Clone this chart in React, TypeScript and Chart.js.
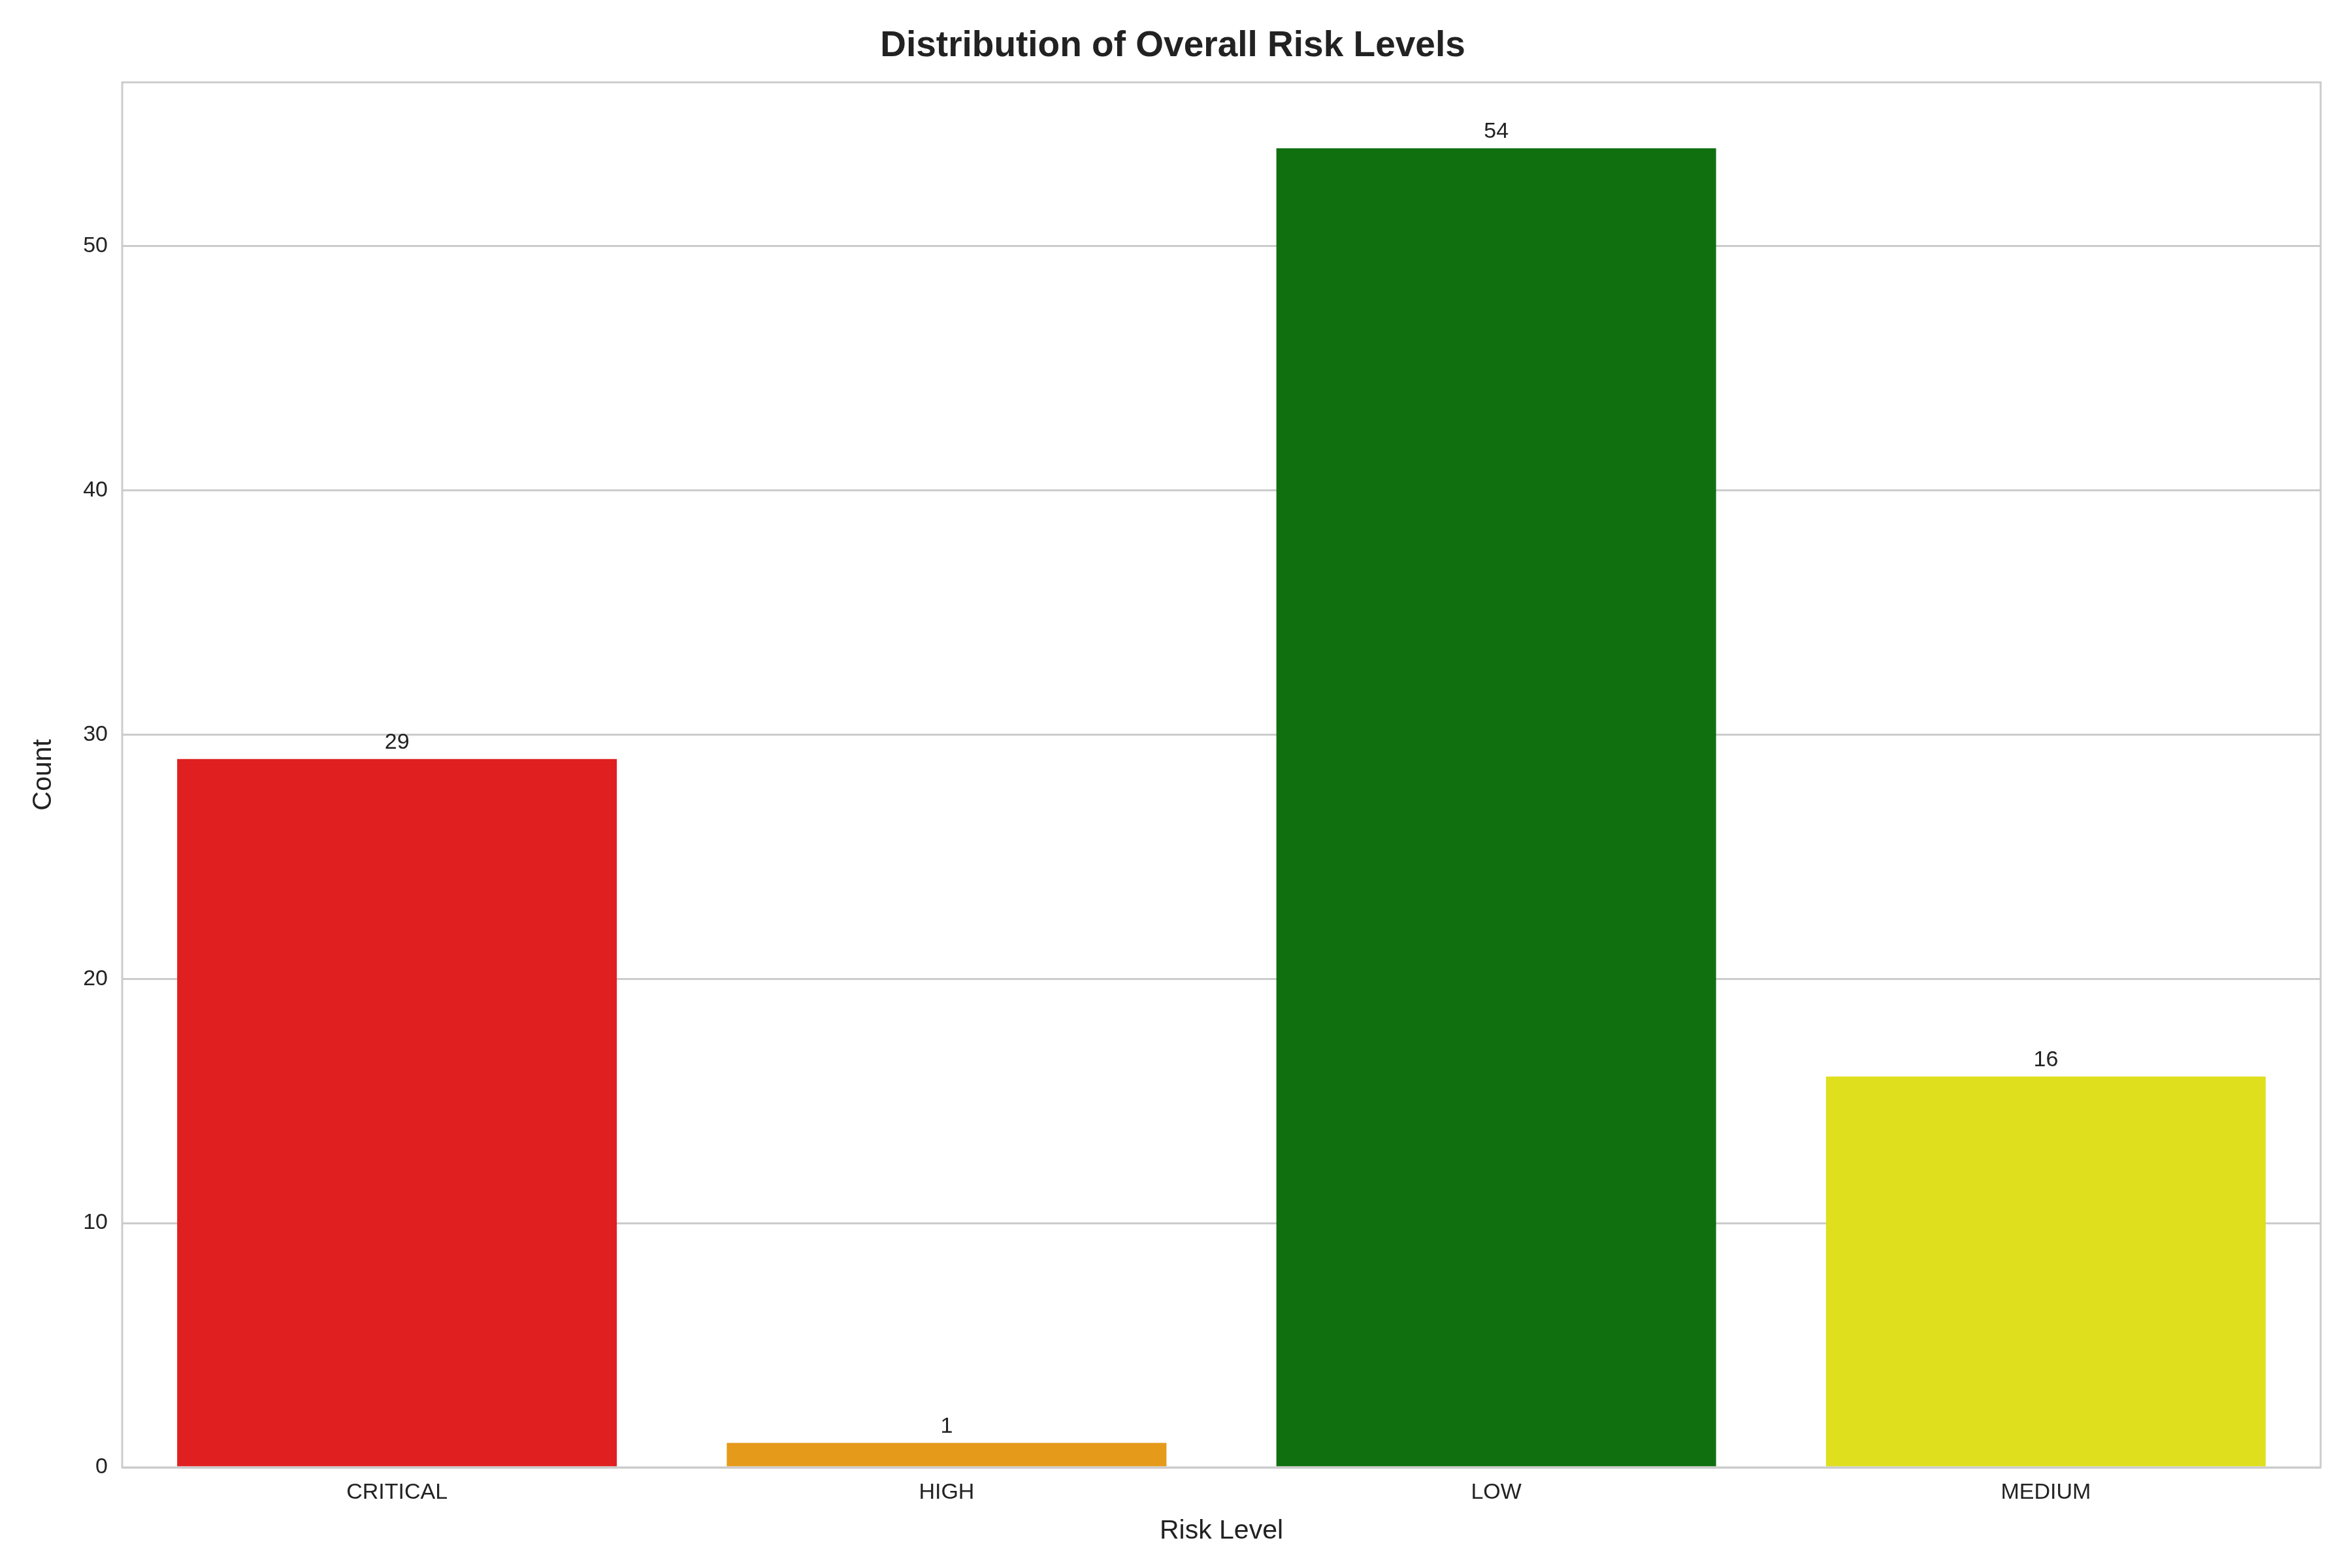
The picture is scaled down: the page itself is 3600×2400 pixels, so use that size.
import { useEffect, useRef } from "react"
import { Chart, registerables } from "chart.js"

Chart.register(...registerables)

const categories = ["CRITICAL", "HIGH", "LOW", "MEDIUM"]
const counts = [29, 1, 54, 16]
const barColors = ["#e02020", "#e59a1a", "#107010", "#dfdf1e"]
const yTicks = [0, 10, 20, 30, 40, 50]

const FONT = "'Liberation Sans', Arial, sans-serif"

// frame around the plot area plus count labels on top of the bars
const extras = {
  id: "extras",
  afterDraw(chart: Chart) {
    const { ctx, chartArea } = chart
    ctx.save()
    ctx.strokeStyle = "#cccccc"
    ctx.lineWidth = 3
    ctx.strokeRect(chartArea.left, chartArea.top, chartArea.right - chartArea.left, chartArea.bottom - chartArea.top)
    const meta = chart.getDatasetMeta(0)
    ctx.fillStyle = "#222"
    ctx.font = `34px ${FONT}`
    ctx.textAlign = "center"
    ctx.textBaseline = "bottom"
    meta.data.forEach((bar: any, i: number) => {
      ctx.fillText(String(counts[i]), bar.x, bar.y - 8)
    })
    ctx.restore()
  },
}

export default function App() {
  const chartRef = useRef<HTMLCanvasElement>(null)
  const chartInstance = useRef<Chart | null>(null)

  useEffect(() => {
    if (!chartRef.current) return
    if (chartInstance.current) chartInstance.current.destroy()

    chartInstance.current = new Chart(chartRef.current, {
      type: "bar",
      data: {
        labels: categories,
        datasets: [
          {
            data: counts,
            backgroundColor: barColors,
            barPercentage: 0.8,
            categoryPercentage: 1,
          },
        ],
      },
      options: {
        responsive: true,
        maintainAspectRatio: false,
        animation: false,
        layout: { padding: { left: 30, right: 40, top: 10, bottom: 20 } },
        plugins: {
          legend: { display: false },
          tooltip: { enabled: false },
          title: {
            display: true,
            text: "Distribution of Overall Risk Levels",
            color: "#222",
            font: { family: FONT, size: 55 },
            padding: { top: 20, bottom: 22 },
          },
        },
        scales: {
          x: {
            grid: { display: false },
            border: { display: false },
            ticks: { color: "#222", font: { family: FONT, size: 34 }, padding: 10 },
            title: { display: true, text: "Risk Level", color: "#222", font: { family: FONT, size: 41 }, padding: { top: 4 } },
          },
          y: {
            min: 0,
            max: 56.7,
            afterBuildTicks: (axis: any) => {
              axis.ticks = yTicks.map((v) => ({ value: v }))
            },
            grid: { color: "#cccccc", lineWidth: 3, drawTicks: false },
            border: { display: false },
            ticks: { color: "#222", font: { family: FONT, size: 34 }, padding: 22 },
            title: { display: true, text: "Count", color: "#222", font: { family: FONT, size: 41 }, padding: { bottom: 14 } },
          },
        },
      },
      plugins: [extras],
    })

    return () => {
      if (chartInstance.current) chartInstance.current.destroy()
    }
  }, [])

  return (
    <div style={{ width: 3584, height: 2384, background: "#fff" }}>
      <canvas ref={chartRef} />
    </div>
  )
}
